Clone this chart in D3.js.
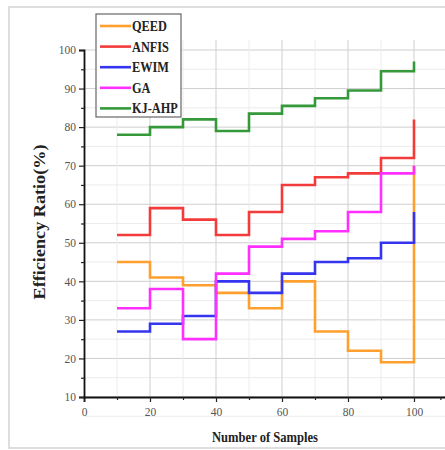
<!DOCTYPE html>
<html>
<head>
<meta charset="utf-8">
<script src="https://cdn.jsdelivr.net/npm/d3@7"></script>
<style>
  body { margin: 0; background: #fff; overflow: hidden; }
  text { font-family: "Liberation Serif", "Times New Roman", serif; }
</style>
</head>
<body>
<div id="chart"></div>
<script>
// Data
const samples = [10, 20, 30, 40, 50, 60, 70, 80, 90, 100];
const qeed  = [45, 41, 39, 37, 33, 40, 27, 22, 19, 70];
const anfis = [52, 59, 56, 52, 58, 65, 67, 68, 72, 82];
const ewim  = [27, 29, 31, 40, 37, 42, 45, 46, 50, 58];
const ga    = [33, 38, 25, 42, 49, 51, 53, 58, 68, 70];
const kjahp = [78, 80, 82, 79, 83.5, 85.5, 87.5, 89.5, 94.5, 97];
const seriesNames = ["QEED", "ANFIS", "EWIM", "GA", "KJ-AHP"];
const seriesColors = ["#ff9f2e", "#f23b3b", "#3535f0", "#ff30ff", "#35993a"];
const seriesValues = [qeed, anfis, ewim, ga, kjahp];
const xTicks = [0, 20, 40, 60, 80, 100];
const yTicks = [10, 20, 30, 40, 50, 60, 70, 80, 90, 100];

const W = 445, H = 450;
const svg = d3.select("#chart").append("svg")
    .attr("width", W).attr("height", H)
    .style("display", "block");

// outer frame (right side runs off the picture)
svg.append("path")
    .attr("d", `M${W + 5},7 H9 V448 H${W + 5}`)
    .attr("fill", "none").attr("stroke", "#d4d4d4").attr("stroke-width", 1.5);

const x = d3.scaleLinear().domain([0, 110]).range([84, 447]);
const y = d3.scaleLinear().domain([10, 100]).range([397, 50]);

// grid
const grid = svg.append("g");
d3.range(5, 101, 5).forEach(v => {
    grid.append("line")
        .attr("x1", x(0)).attr("x2", W)
        .attr("y1", y(v)).attr("y2", y(v))
        .attr("stroke", v % 10 === 0 ? "#cfcfcf" : "#ececec")
        .attr("stroke-width", 1);
});
d3.range(10, 101, 10).forEach(v => {
    grid.append("line")
        .attr("x1", x(v)).attr("x2", x(v))
        .attr("y1", y(102.6)).attr("y2", y(10))
        .attr("stroke", v % 20 === 0 ? "#cfcfcf" : "#ececec")
        .attr("stroke-width", 1);
});

// series as step lines
const line = d3.line()
    .x((d, i) => x(samples[i]))
    .y(d => y(d))
    .curve(d3.curveStepAfter);

seriesValues.forEach((vals, k) => {
    svg.append("path")
        .datum(vals)
        .attr("d", line)
        .attr("fill", "none")
        .attr("stroke", seriesColors[k])
        .attr("stroke-width", 2.6);
});

// axes
svg.append("g")
    .attr("transform", `translate(0,${y(10)})`)
    .call(d3.axisBottom(x).tickValues(xTicks).tickSize(5).tickPadding(6));
svg.append("g")
    .attr("transform", `translate(0,${y(10)})`)
    .call(d3.axisBottom(x).tickValues([10, 30, 50, 70, 90, 108]).tickSize(3).tickFormat(""))
    .call(g => g.select(".domain").remove());

svg.append("g")
    .attr("transform", `translate(${x(0)},0)`)
    .call(d3.axisLeft(y).tickValues(yTicks).tickSize(5).tickPadding(3));
svg.append("g")
    .attr("transform", `translate(${x(0)},0)`)
    .call(d3.axisLeft(y).tickValues(d3.range(15, 100, 10)).tickSize(3).tickFormat(""))
    .call(g => g.select(".domain").remove());

svg.selectAll(".domain").attr("stroke", "#111").attr("stroke-width", 1.8);
svg.selectAll(".tick line").attr("stroke", "#222").attr("stroke-width", 1.2);
svg.selectAll(".tick text")
    .attr("fill", "#555")
    .style("font-size", "11.5px")
    .style("font-family", "'Liberation Serif', serif");

// axis titles
svg.append("text")
    .attr("x", 265).attr("y", 442)
    .attr("text-anchor", "middle")
    .attr("font-weight", "bold")
    .attr("font-size", 15)
    .attr("fill", "#222")
    .attr("textLength", 106).attr("lengthAdjust", "spacingAndGlyphs")
    .text("Number of Samples");

svg.append("text")
    .attr("transform", `translate(45,222) rotate(-90)`)
    .attr("text-anchor", "middle")
    .attr("font-weight", "bold")
    .attr("font-size", 16)
    .attr("fill", "#222")
    .attr("textLength", 155).attr("lengthAdjust", "spacingAndGlyphs")
    .text("Efficiency Ratio(%)");

// legend
const legend = svg.append("g");
legend.append("rect")
    .attr("x", 96).attr("y", 14).attr("width", 85).attr("height", 103)
    .attr("fill", "#fff").attr("stroke", "#666").attr("stroke-width", 1.2);

seriesNames.forEach((name, k) => {
    const ly = 26 + k * 20.6;
    legend.append("line")
        .attr("x1", 100).attr("x2", 131)
        .attr("y1", ly).attr("y2", ly)
        .attr("stroke", seriesColors[k]).attr("stroke-width", 2.6);
    const t = legend.append("text")
        .attr("x", 132).attr("y", ly + 5)
        .attr("font-weight", "bold")
        .attr("font-size", 15)
        .attr("fill", "#222")
        .text(name);
    const len = t.node().getComputedTextLength();
    t.attr("textLength", len * 0.82).attr("lengthAdjust", "spacingAndGlyphs");
});
</script>
</body>
</html>
